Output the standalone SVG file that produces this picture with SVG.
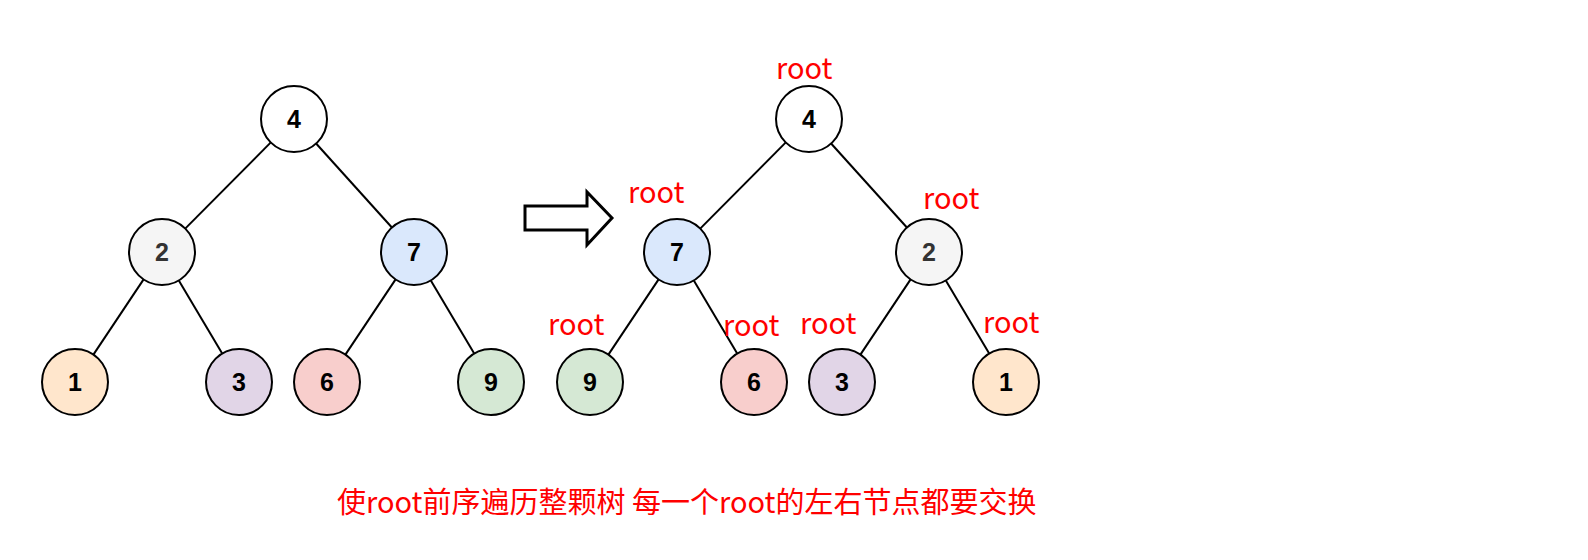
<svg xmlns="http://www.w3.org/2000/svg" width="1588" height="560" viewBox="0 0 1588 560">
<style>
.n{stroke:#000;stroke-width:2}
.t{font-family:"Liberation Sans",Arial,sans-serif;font-weight:bold;font-size:25px;text-anchor:middle;fill:#000}
.e{stroke:#000;stroke-width:2;fill:none}
.r{font-family:"Noto Sans CJK SC","Noto Sans",sans-serif;font-size:29px;fill:#ff0000}
</style>
<rect width="1588" height="560" fill="#fff"/>
<g id="connectors">
<line class="e" x1="270.8" y1="142.4" x2="185.2" y2="228.6"/>
<line class="e" x1="316.1" y1="143.5" x2="391.9" y2="227.5"/>
<line class="e" x1="143.6" y1="279.4" x2="93.4" y2="354.6"/>
<line class="e" x1="178.8" y1="280.4" x2="222.2" y2="353.6"/>
<line class="e" x1="395.6" y1="279.4" x2="345.4" y2="354.6"/>
<line class="e" x1="430.8" y1="280.4" x2="474.2" y2="353.6"/>
<line class="e" x1="785.8" y1="142.4" x2="700.2" y2="228.6"/>
<line class="e" x1="831.1" y1="143.5" x2="906.9" y2="227.5"/>
<line class="e" x1="658.6" y1="279.4" x2="608.4" y2="354.6"/>
<line class="e" x1="693.8" y1="280.4" x2="737.2" y2="353.6"/>
<line class="e" x1="910.6" y1="279.4" x2="860.4" y2="354.6"/>
<line class="e" x1="945.8" y1="280.4" x2="989.2" y2="353.6"/>
</g>
<g id="L4"><circle class="n" cx="294" cy="119" r="33" fill="#ffffff"/><text class="t" x="294" y="128">4</text></g>
<g id="L2"><circle class="n" cx="162" cy="252" r="33" fill="#f5f5f5"/><text class="t" x="162" y="261" style="fill:#333333">2</text></g>
<g id="L7"><circle class="n" cx="414" cy="252" r="33" fill="#dae8fc"/><text class="t" x="414" y="261">7</text></g>
<g id="L1"><circle class="n" cx="75" cy="382" r="33" fill="#ffe6cc"/><text class="t" x="75" y="391">1</text></g>
<g id="L3"><circle class="n" cx="239" cy="382" r="33" fill="#e1d5e7"/><text class="t" x="239" y="391">3</text></g>
<g id="L6"><circle class="n" cx="327" cy="382" r="33" fill="#f8cecc"/><text class="t" x="327" y="391">6</text></g>
<g id="L9"><circle class="n" cx="491" cy="382" r="33" fill="#d5e8d4"/><text class="t" x="491" y="391">9</text></g>
<g id="arrow"><polygon points="525,206 587,206 587,192 612,218 587,245 587,230 525,230" fill="#fff" stroke="#000" stroke-width="3"/></g>
<g id="R4"><circle class="n" cx="809" cy="119" r="33" fill="#ffffff"/><text class="t" x="809" y="128">4</text></g>
<g id="R7"><circle class="n" cx="677" cy="252" r="33" fill="#dae8fc"/><text class="t" x="677" y="261">7</text></g>
<g id="R2"><circle class="n" cx="929" cy="252" r="33" fill="#f5f5f5"/><text class="t" x="929" y="261" style="fill:#333333">2</text></g>
<g id="R9"><circle class="n" cx="590" cy="382" r="33" fill="#d5e8d4"/><text class="t" x="590" y="391">9</text></g>
<g id="R6"><circle class="n" cx="754" cy="382" r="33" fill="#f8cecc"/><text class="t" x="754" y="391">6</text></g>
<g id="R3"><circle class="n" cx="842" cy="382" r="33" fill="#e1d5e7"/><text class="t" x="842" y="391">3</text></g>
<g id="R1"><circle class="n" cx="1006" cy="382" r="33" fill="#ffe6cc"/><text class="t" x="1006" y="391">1</text></g>
<g id="labels">
<text class="r" x="776" y="79">root</text>
<text class="r" x="628" y="203">root</text>
<text class="r" x="923" y="209">root</text>
<text class="r" x="548" y="335">root</text>
<text class="r" x="723" y="336">root</text>
<text class="r" x="800" y="334">root</text>
<text class="r" x="983" y="333">root</text>
<text class="r" x="337" y="513">使root前序遍历整颗树 每一个root的左右节点都要交换</text>
</g>
</svg>
